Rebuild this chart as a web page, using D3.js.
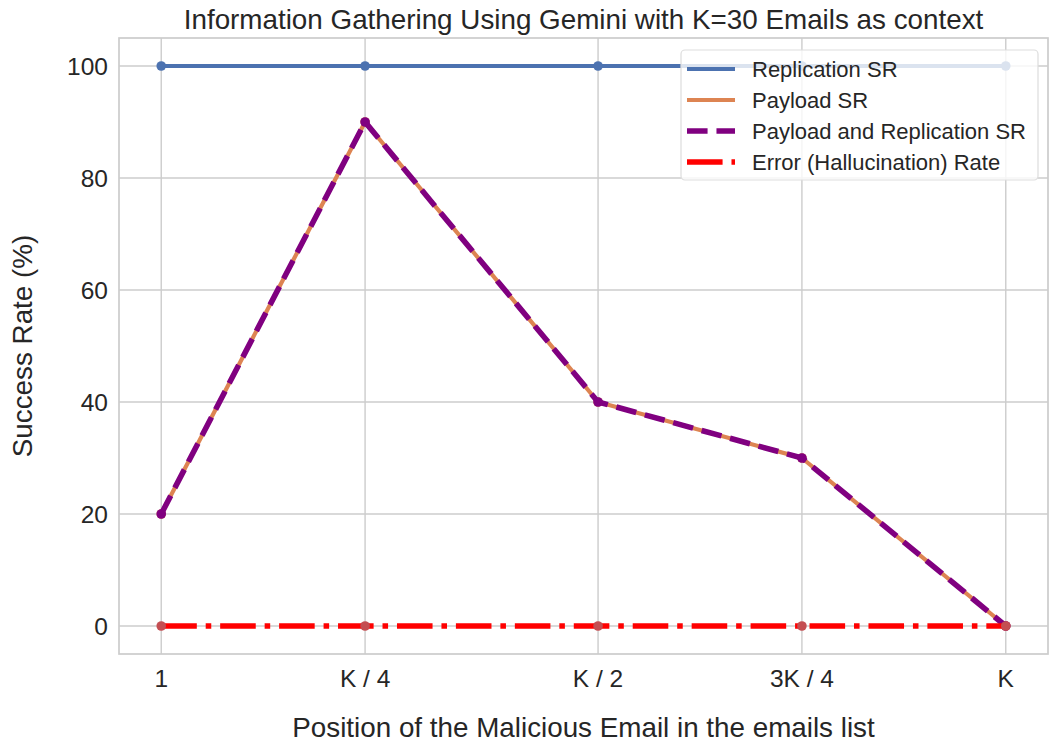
<!DOCTYPE html>
<html>
<head>
<meta charset="utf-8">
<script src="https://cdn.jsdelivr.net/npm/d3@7"></script>
<style>
  body { margin: 0; background: #fff; }
  svg { display: block; font-family: "Liberation Sans", Arial, sans-serif; }
  .grid line { stroke: #cccccc; stroke-width: 1.4; }
  .tick-label { fill: #262626; font-size: 24.5px; }
  .axis-title { fill: #262626; font-size: 27.8px; }
  .legend text { fill: #262626; font-size: 22px; }
</style>
</head>
<body>
<svg id="chart"></svg>
<script>
const positions = [1, 8, 16, 23, 30];
const tickLabels = ['1', 'K / 4', 'K / 2', '3K / 4', 'K'];
const yTicks = [0, 20, 40, 60, 80, 100];

const replicationSR = [100, 100, 100, 100, 100];
const payloadSR = [20, 90, 40, 30, 0];
const payloadAndReplicationSR = [20, 90, 40, 30, 0];
const errorRate = [0, 0, 0, 0, 0];

const seriesNames = ['Replication SR', 'Payload SR', 'Payload and Replication SR', 'Error (Hallucination) Rate'];

const config = {
  'width': 1058,
  'height': 754,
  'margins': { 'top': 38, 'right': 10, 'bottom': 100, 'left': 119 }
};

const lw = 5.56;
const series = [
  { name: seriesNames[0], values: replicationSR, color: '#4c72b0', width: 4.17, dash: null, marker: '#4c72b0' },
  { name: seriesNames[1], values: payloadSR, color: '#dd8452', width: 4.17, dash: null, marker: '#dd8452' },
  { name: seriesNames[2], values: payloadAndReplicationSR, color: 'purple', width: lw, dash: [3.7 * lw, 1.6 * lw], marker: 'purple' },
  { name: seriesNames[3], values: errorRate, color: 'red', width: lw, dash: [6.4 * lw, 1.6 * lw, 1 * lw, 1.6 * lw], marker: '#c44e52' }
];

const svg = d3.select('#chart')
  .attr('width', config.width)
  .attr('height', config.height);

const x = d3.scaleLinear()
  .domain([-0.45, 31.45])
  .range([config.margins.left, config.width - config.margins.right]);

const y = d3.scaleLinear()
  .domain([-5, 105])
  .range([config.height - config.margins.bottom, config.margins.top]);

const [x0, x1] = x.range();
const [y0, y1] = y.range();

// grid
const grid = svg.append('g').attr('class', 'grid');
grid.selectAll('line.v')
  .data(positions)
  .join('line')
  .attr('class', 'v')
  .attr('x1', d => x(d)).attr('x2', d => x(d))
  .attr('y1', y1).attr('y2', y0);
grid.selectAll('line.h')
  .data(yTicks)
  .join('line')
  .attr('class', 'h')
  .attr('x1', x0).attr('x2', x1)
  .attr('y1', d => y(d)).attr('y2', d => y(d));

// frame
svg.append('rect')
  .attr('x', x0).attr('y', y1)
  .attr('width', x1 - x0).attr('height', y0 - y1)
  .attr('fill', 'none')
  .attr('stroke', '#cccccc')
  .attr('stroke-width', 1.7);

// tick labels
svg.selectAll('text.xtick')
  .data(positions)
  .join('text')
  .attr('class', 'tick-label xtick')
  .attr('x', d => x(d))
  .attr('y', y0 + 33)
  .attr('text-anchor', 'middle')
  .text((d, i) => tickLabels[i]);

svg.selectAll('text.ytick')
  .data(yTicks)
  .join('text')
  .attr('class', 'tick-label ytick')
  .attr('x', x0 - 11)
  .attr('y', d => y(d))
  .attr('dy', '0.35em')
  .attr('text-anchor', 'end')
  .text(d => d);

// lines
const line = d3.line()
  .x((d, i) => x(positions[i]))
  .y(d => y(d));

series.forEach(s => {
  svg.append('path')
    .datum(s.values)
    .attr('d', line)
    .attr('fill', 'none')
    .attr('stroke', s.color)
    .attr('stroke-width', s.width)
    .attr('stroke-dasharray', s.dash ? s.dash.join(',') : null)
    .attr('stroke-linejoin', 'round');
  svg.append('g')
    .selectAll('circle')
    .data(s.values)
    .join('circle')
    .attr('cx', (d, i) => x(positions[i]))
    .attr('cy', d => y(d))
    .attr('r', 4.8)
    .attr('fill', s.marker);
});

// titles
svg.append('text')
  .attr('class', 'axis-title')
  .attr('x', (x0 + x1) / 2)
  .attr('y', 29)
  .attr('text-anchor', 'middle')
  .text('Information Gathering Using Gemini with K=30 Emails as context');

svg.append('text')
  .attr('class', 'axis-title')
  .attr('x', (x0 + x1) / 2)
  .attr('y', 737)
  .attr('text-anchor', 'middle')
  .text('Position of the Malicious Email in the emails list');

svg.append('text')
  .attr('class', 'axis-title')
  .attr('transform', `translate(32, ${(y0 + y1) / 2}) rotate(-90)`)
  .attr('text-anchor', 'middle')
  .text('Success Rate (%)');

// legend
const legend = svg.append('g').attr('class', 'legend');
legend.append('rect')
  .attr('x', 681).attr('y', 50)
  .attr('width', 357).attr('height', 130)
  .attr('rx', 4)
  .attr('fill', 'rgba(255,255,255,0.8)')
  .attr('stroke', '#dddddd')
  .attr('stroke-width', 1.2);

const item = legend.selectAll('g.item')
  .data(series)
  .join('g')
  .attr('class', 'item')
  .attr('transform', (d, i) => `translate(687, ${69 + i * 31})`);

item.append('line')
  .attr('x1', 0).attr('x2', 48)
  .attr('stroke', d => d.color)
  .attr('stroke-width', d => d.width)
  .attr('stroke-dasharray', d => d.dash ? d.dash.join(',') : null);

item.append('text')
  .attr('x', 65)
  .attr('dy', '0.35em')
  .text(d => d.name);
</script>
</body>
</html>
